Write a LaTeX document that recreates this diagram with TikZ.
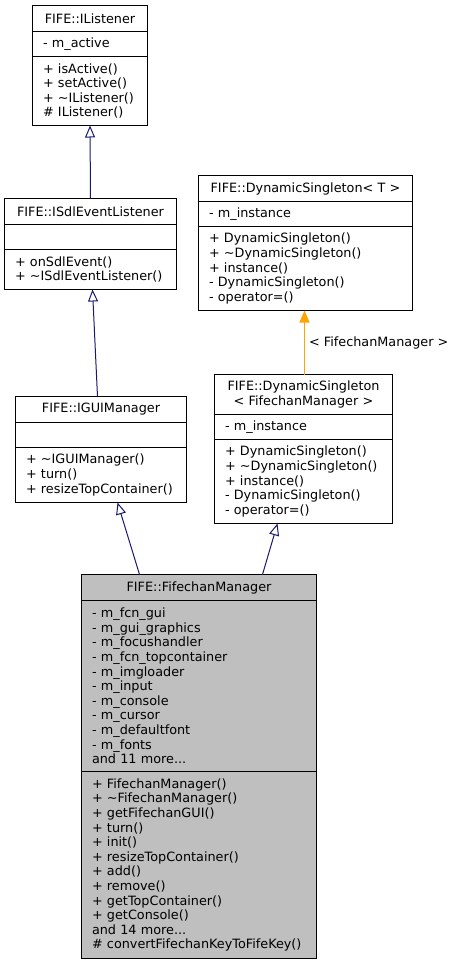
\documentclass[tikz,border=0pt]{standalone}
\usepackage{fontspec}
\setmainfont{DejaVu Sans}
\usetikzlibrary{arrows.meta}
\definecolor{edgeblue}{RGB}{25,25,112}
\definecolor{edgeorange}{RGB}{255,165,0}
\definecolor{classgray}{RGB}{191,191,191}

\begin{document}
\begin{tikzpicture}[x=1pt,y=-1pt,
    part/.style={draw=black,line width=1pt,anchor=north west,inner xsep=10.5pt,inner ysep=0pt,outer sep=0pt,
      font=\fontsize{12.8}{14.6}\selectfont,align=left,minimum height=#1},
    part/.default=25pt,
    title/.style={part=#1,align=center},
    title/.default=26pt,
    inherit/.style={draw=edgeblue,line width=1pt,-{Triangle[open,length=12pt,width=10pt]}},
    template/.style={draw=edgeorange,line width=1.3pt,-{Triangle[length=12pt,width=10pt]}}]
    \useasboundingbox(0,0)rectangle(456,965);
    % FIFE::IListener
    \node[title,text width=94pt](ilistener)at(32.5,5.5){FIFE::IListener};
    \node[part,text width=94pt](ilistenerattr)at(ilistener.south west){-~m\_active};
    \node[part=69pt,text width=94pt](ilistenerops)at(ilistenerattr.south west){+~isActive()\\+~setActive()\\+~\textasciitilde IListener()\\\#~IListener()};
    % FIFE::ISdlEventListener
    \node[title,text width=151pt](isdl)at(4.5,198.5){FIFE::ISdlEventListener};
    \node[part,text width=151pt](isdlattr)at(isdl.south west){};
    \node[part=40pt,text width=151pt](isdlops)at(isdlattr.south west){+~onSdlEvent()\\+~\textasciitilde ISdlEventListener()};
    % FIFE::DynamicSingleton< T >
    \node[title,text width=193pt](dynt)at(198.5,175.5){FIFE::DynamicSingleton<~T~>};
    \node[part,text width=193pt](dyntattr)at(dynt.south west){-~m\_instance};
    \node[part=84pt,text width=193pt](dyntops)at(dyntattr.south west){+~DynamicSingleton()\\+~\textasciitilde DynamicSingleton()\\+~instance()\\-~DynamicSingleton()\\-~operator=()};
    % FIFE::DynamicSingleton< FifechanManager >
    \node[title=40pt,text width=157pt](dynfm)at(214.5,374.5){FIFE::DynamicSingleton\\<~FifechanManager~>};
    \node[part,text width=157pt](dynfmattr)at(dynfm.south west){-~m\_instance};
    \node[part=84pt,text width=157pt](dynfmops)at(dynfmattr.south west){+~DynamicSingleton()\\+~\textasciitilde DynamicSingleton()\\+~instance()\\-~DynamicSingleton()\\-~operator=()};
    % FIFE::IGUIManager
    \node[title,text width=150pt](igui)at(15.5,396.5){FIFE::IGUIManager};
    \node[part,text width=150pt](iguiattr)at(igui.south west){};
    \node[part=55pt,text width=150pt](iguiops)at(iguiattr.south west){+~\textasciitilde IGUIManager()\\+~turn()\\+~resizeTopContainer()};
    % FIFE::FifechanManager
    \node[title,text width=214pt,fill=classgray](fm)at(81.5,574.5){FIFE::FifechanManager};
    \node[part=171pt,text width=214pt,fill=classgray](fmattr)at(fm.south west){-~m\_fcn\_gui\\-~m\_gui\_graphics\\-~m\_focushandler\\-~m\_fcn\_topcontainer\\-~m\_imgloader\\-~m\_input\\-~m\_console\\-~m\_cursor\\-~m\_defaultfont\\-~m\_fonts\\and~11~more...};
    \node[part=187pt,text width=214pt,fill=classgray](fmops)at(fmattr.south west){+~FifechanManager()\\+~\textasciitilde FifechanManager()\\+~getFifechanGUI()\\+~turn()\\+~init()\\+~resizeTopContainer()\\+~add()\\+~remove()\\+~getTopContainer()\\+~getConsole()\\and~14~more...\\\#~convertFifechanKeyToFifeKey()};
    % inheritance
    \draw[inherit](isdl.north)--(ilistenerops.south);
    \draw[inherit]([xshift=-3.5pt]igui.north)--([xshift=2pt]isdlops.south);
    \draw[inherit]([xshift=-59.5pt]fm.north)--([xshift=16.5pt]iguiops.south);
    \draw[inherit]([xshift=63.5pt]fm.north)--([xshift=-26pt]dynfmops.south);
    \draw[template]([xshift=1pt]dynfm.north)--([xshift=1pt]dynfm.north|-dyntops.south)node[midway,right,inner sep=4pt,font=\fontsize{12.8}{14.6}\selectfont]{<~FifechanManager~>};
\end{tikzpicture}
\end{document}
